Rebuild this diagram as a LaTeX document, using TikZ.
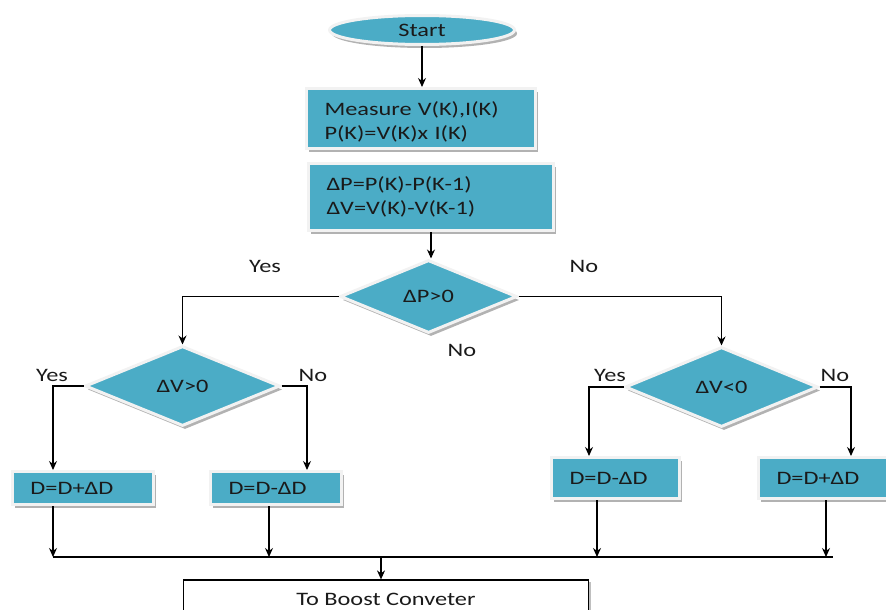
\documentclass[tikz,border=0pt]{standalone}
\usepackage{fontspec}
\setmainfont{Carlito}[FakeStretch=1.28]
\usetikzlibrary{shapes.geometric,shadows,arrows.meta}
\definecolor{aqua}{HTML}{4BACC6}
\definecolor{rim}{HTML}{F2F2F2}
\definecolor{ink}{HTML}{1A1A1A}
\tikzset{
  shade box/.style={fill=aqua, draw=rim, line width=3pt, text=ink,
    drop shadow={shadow xshift=2.5pt, shadow yshift=-3.5pt, fill=black!30, opacity=1}},
  procbox/.style={shade box, rectangle, inner xsep=18pt, inner ysep=0pt, align=left},
  decision/.style={shade box, diamond, inner sep=0pt},
  wire/.style={line width=1.1pt},
}
\begin{document}
\begin{tikzpicture}[x=1pt, y=-1pt, >={Stealth[length=9pt,width=8pt]}, font=\fontsize{19}{24}\selectfont]
\useasboundingbox (0,0) rectangle (886,610);
\clip (0,0) rectangle (886,610);

\node[shade box, ellipse, minimum width=185, minimum height=29, inner sep=0pt] (start) at (422,30) {Start};
\node[procbox, text width=193, minimum height=60] (meas) at (421,118.5) {\rule{0pt}{20pt}Measure V(K),I(K)\\P(K)=V(K)x I(K)};
\node[procbox, text width=209, minimum height=67] (delta) at (431,197) {ΔP=P(K)-P(K-1)\\ΔV=V(K)-V(K-1)};

\node[decision, minimum width=177, minimum height=73] (dp) at (428.5,296.5) {ΔP>0};
\node[decision, minimum width=195, minimum height=80] (dvp) at (182.5,386) {ΔV>0};
\node[decision, minimum width=193, minimum height=80] (dvn) at (721.5,387) {ΔV<0};

\foreach \n/\x/\y/\w/\h/\t in {dpl/83/488/105/33/{D=D+ΔD}, dmi/276/488/95/33/{D=D-ΔD},
    dmr/615.5/478/92/41/{D=D-ΔD}, dpr/830/478/107/41/{D=D+ΔD}}
  \node[procbox, text width=\w, minimum height=\h] (\n) at (\x,\y) {\t};

\node[draw=black, fill=white, line width=1.2pt, text=ink, minimum width=405, minimum height=38,
  drop shadow={shadow xshift=2pt, shadow yshift=-2pt, fill=black!25, opacity=1}] (boost) at (386,599) {To Boost Conveter};

% branch labels
\foreach \n/\x/\y/\t in {ly1/265/266/Yes, ln1/584/266/No, ln2/462/350/No, ly2/52/375/Yes,
    ln3/313/375/No, ly3/610/375/Yes, ln4/835/375/No}
  \node[text=ink] (\n) at (\x,\y) {\t};

\coordinate (in2) at (307,0);
\coordinate (in3) at (589,0);
\coordinate (in4) at (851,0);
\coordinate (b1) at (53,557);
\coordinate (b2) at (269,557);
\coordinate (b3) at (597,557);
\coordinate (b4) at (826,557);
\coordinate (bend) at (833,557);
\coordinate (bj) at (381,557);

\draw[wire,->] (start.south) -- (start.south |- meas.north);
\draw[wire,->] (delta.south) -- (delta.south |- dp.north);
\draw[wire,->] (dp.west) -| (dvp.north);
\draw[wire,->] (dp.east) -| (dvn.north);
\draw[wire,->] (dvp.west) -| (dpl.north -| b1);
\draw[wire,->] (dvp.east) -| (dmi.north -| in2);
\draw[wire,->] (dvn.west) -| (dmr.north -| in3);
\draw[wire,->] (dvn.east) -| (dpr.north -| in4);
\foreach \n/\b in {dpl/b1, dmi/b2, dmr/b3, dpr/b4}
  \draw[wire,->] (\n.south -| \b) -- (\b);
\draw[wire] (b1) -- (bend);
\draw[wire,->] (bj) -- (boost.north -| bj);
\end{tikzpicture}
\end{document}
